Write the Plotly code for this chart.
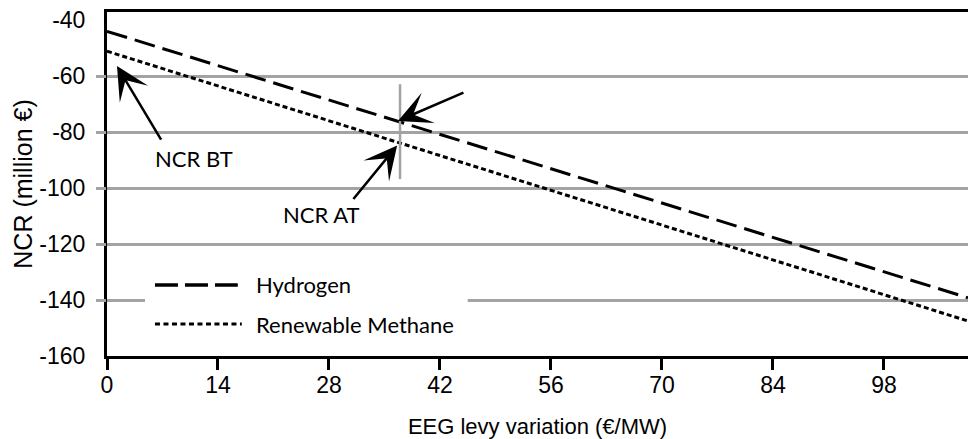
import plotly.graph_objects as go

# ---- data ----
x_levy = [0, 108.6]
hydrogen = [-44.0, -139.2]
methane = [-51.1, -147.5]

x_ticks = [0, 14, 28, 42, 56, 70, 84, 98]
y_ticks = [-40, -60, -80, -100, -120, -140, -160]
y_tick_text = [str(v) for v in y_ticks]
grid_vals = [-60, -80, -100, -120, -140]

x_range = [0, 108.6]
y_range = [-160, -37.1]

# marker line at the evaluated levy value
marker_x = 36.96
marker_y = [-62.9, -96.8]

GRID = "#a3a3a3"
TICKFONT = dict(family="Arial", size=23, color="black")
LABFONT = dict(family="Lato, Open Sans", size=22, color="black")
ARROW = dict(arrowhead=3, arrowsize=2.2, arrowwidth=2.5, arrowcolor="black")

fig = go.Figure()
fig.add_trace(go.Scatter(x=x_levy, y=hydrogen, mode="lines", name="Hydrogen",
                         line=dict(color="black", width=3, dash="21px,8px"),
                         showlegend=False, hoverinfo="skip"))
fig.add_trace(go.Scatter(x=x_levy, y=methane, mode="lines", name="Renewable Methane",
                         line=dict(color="black", width=3, dash="5px,3px"),
                         showlegend=False, hoverinfo="skip"))
# empty trace to carry the grid axis
fig.add_trace(go.Scatter(x=[], y=[], yaxis="y2", showlegend=False, hoverinfo="skip"))

shapes = []
# vertical marker line
shapes.append(dict(type="line", xref="x", yref="y", x0=marker_x, x1=marker_x,
                   y0=marker_y[0], y1=marker_y[1], line=dict(color=GRID, width=2.5),
                   layer="above"))
# legend box (white, masks the gridline)
shapes.append(dict(type="rect", xref="x", yref="y", x0=4.79, x1=45.5, y0=-126.8, y1=-154.6,
                   fillcolor="white", line=dict(width=0), layer="above"))
shapes.append(dict(type="line", xref="x", yref="y", x0=6.05, x1=16.5, y0=-134.6, y1=-134.6,
                   line=dict(color="black", width=3.5, dash="23px,7px"), layer="above"))
shapes.append(dict(type="line", xref="x", yref="y", x0=6.05, x1=17.0, y0=-148.6, y1=-148.6,
                   line=dict(color="black", width=3, dash="5px,3.5px"), layer="above"))

annotations = [
    dict(x=18.5, y=-134.6, xref="x", yref="y", text="Hydrogen", showarrow=False,
         xanchor="left", yanchor="middle", font=LABFONT),
    dict(x=18.5, y=-148.6, xref="x", yref="y", text="Renewable Methane", showarrow=False,
         xanchor="left", yanchor="middle", font=LABFONT),
    # NCR BT arrow + label
    dict(x=1.26, y=-56.4, xref="x", yref="y", text="", showarrow=True, ax=45, ay=75, **ARROW),
    dict(x=10.97, y=-89.3, xref="x", yref="y", text="NCR BT", showarrow=False, font=LABFONT),
    # upper arrow
    dict(x=36.7, y=-76.0, xref="x", yref="y", text="", showarrow=True, ax=67, ay=-29, **ARROW),
    # NCR AT arrow + label
    dict(x=36.6, y=-84.8, xref="x", yref="y", text="", showarrow=True, ax=-45, ay=55, **ARROW),
    dict(x=27.1, y=-109.3, xref="x", yref="y", text="NCR AT", showarrow=False, font=LABFONT),
]

fig.update_layout(
    width=968, height=439,
    margin=dict(l=107, r=0, t=12, b=83, autoexpand=False),
    paper_bgcolor="white", plot_bgcolor="white",
    showlegend=False,
    xaxis=dict(range=x_range, tickvals=x_ticks, ticks="outside", ticklen=11, tickwidth=2.5,
               tickcolor="black", showline=True, linecolor="black", linewidth=3, mirror=True,
               showgrid=False, zeroline=False, tickfont=TICKFONT, ticklabelstandoff=-5,
               title=dict(text="EEG levy variation (€/MW)", standoff=25,
                          font=dict(family="Arial", size=22, color="black"))),
    yaxis=dict(range=y_range, tickvals=y_ticks, ticktext=y_tick_text, ticks="", showline=True,
               linecolor="black", linewidth=3, showgrid=False, zeroline=False, tickfont=TICKFONT,
               ticklabelstandoff=14,
               title=dict(text="NCR (million €)", standoff=0,
                          font=dict(family="Arial", size=25, color="black"))),
    yaxis2=dict(range=y_range, overlaying="y", side="left", tickvals=grid_vals,
                showticklabels=False, ticks="outside", ticklen=10, tickwidth=2.5,
                tickcolor=GRID, showgrid=True, gridcolor=GRID, gridwidth=2.5,
                zeroline=False, showline=False),
    shapes=shapes,
    annotations=annotations,
)

fig.write_html("out.html")
